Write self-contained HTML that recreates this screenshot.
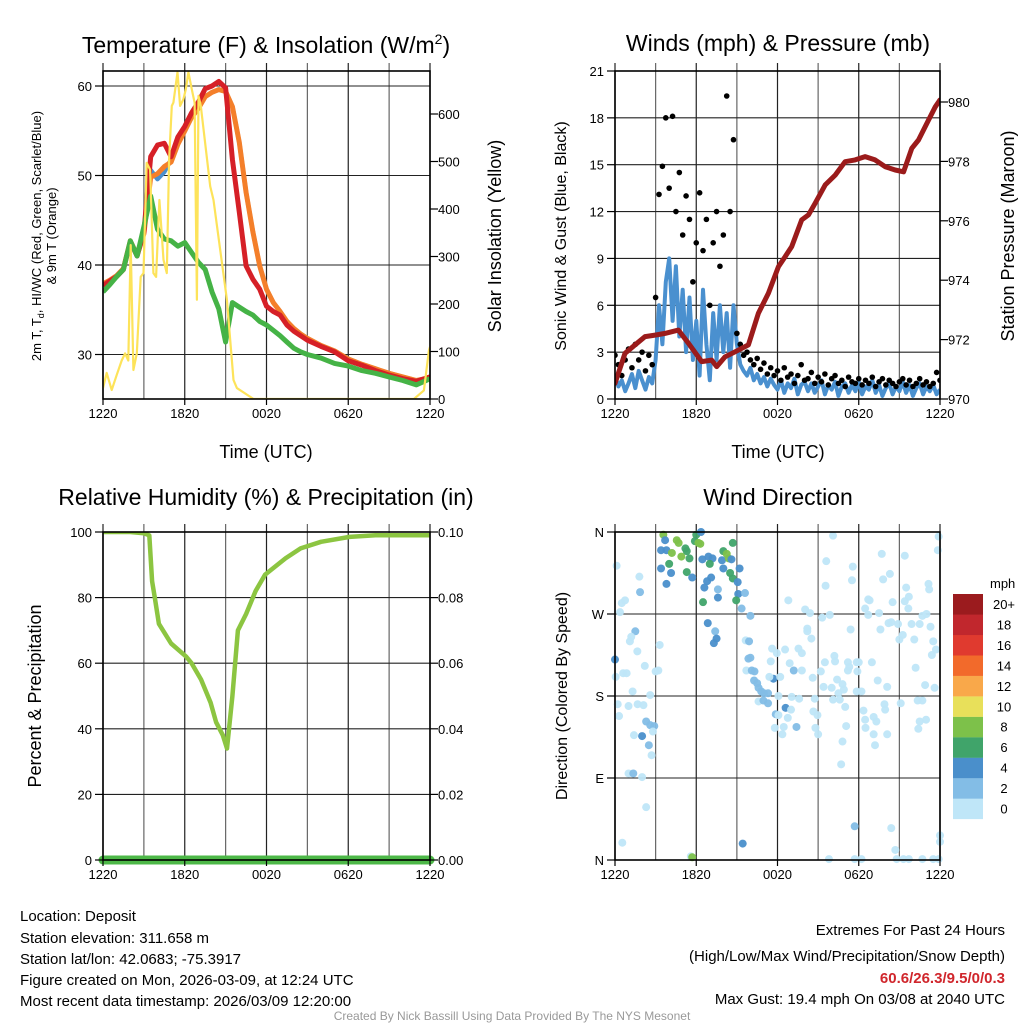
<!DOCTYPE html>
<html><head><meta charset="utf-8"><title>Mesonet Deposit</title>
<style>
html,body{margin:0;padding:0;background:#fff;}
svg{display:block;font-family:"Liberation Sans",Arial,sans-serif;}
.t{font-size:13px;fill:#000;}
.ttl{font-size:23px;fill:#000;}
.ax{font-size:18px;fill:#000;}
.info{font-size:15px;fill:#000;}
</style></head>
<body>
<svg id="chart" width="1024" height="1024" viewBox="0 0 1024 1024">
<rect x="0" y="0" width="1024" height="1024" fill="#fff"/>
<!-- titles -->
<text class="ttl" x="266" y="53" text-anchor="middle">Temperature (F) &amp; Insolation (W/m<tspan font-size="14" dy="-9">2</tspan><tspan dy="9">)</tspan></text>
<text class="ttl" x="778" y="51" text-anchor="middle">Winds (mph) &amp; Pressure (mb)</text>
<text class="ttl" x="266" y="505" text-anchor="middle">Relative Humidity (%) &amp; Precipitation (in)</text>
<text class="ttl" x="778" y="505" text-anchor="middle">Wind Direction</text>
<!-- axis titles -->
<text x="0" y="0" font-size="13" transform="translate(41,236) rotate(-90)" text-anchor="middle">2m T, T<tspan font-size="9" dy="3">d</tspan><tspan dy="-3">, HI/WC (Red, Green, Scarlet/Blue)</tspan></text>
<text x="0" y="0" font-size="13" transform="translate(56,236) rotate(-90)" text-anchor="middle">&amp; 9m T (Orange)</text>
<text class="ax" transform="translate(501,236) rotate(-90)" text-anchor="middle">Solar Insolation (Yellow)</text>
<text class="ax" x="266" y="458" text-anchor="middle">Time (UTC)</text>
<text x="0" y="0" font-size="16" transform="translate(566,236) rotate(-90)" text-anchor="middle">Sonic Wind &amp; Gust (Blue, Black)</text>
<text class="ax" transform="translate(1014,236) rotate(-90)" text-anchor="middle">Station Pressure (Maroon)</text>
<text class="ax" x="778" y="458" text-anchor="middle">Time (UTC)</text>
<text class="ax" transform="translate(41,696) rotate(-90)" text-anchor="middle">Percent &amp; Precipitation</text>
<text x="0" y="0" font-size="16" transform="translate(567,696) rotate(-90)" text-anchor="middle">Direction (Colored By Speed)</text>
<!-- info text -->
<g>
<text class="info" x="20" y="921">Location: Deposit</text>
<text class="info" x="20" y="943">Station elevation: 311.658 m</text>
<text class="info" x="20" y="964">Station lat/lon: 42.0683; -75.3917</text>
<text class="info" x="20" y="985">Figure created on Mon, 2026-03-09, at 12:24 UTC</text>
<text class="info" x="20" y="1006">Most recent data timestamp: 2026/03/09 12:20:00</text>
</g>
<g>
<text class="info" x="1005" y="935" text-anchor="end">Extremes For Past 24 Hours</text>
<text class="info" x="1005" y="961" text-anchor="end">(High/Low/Max Wind/Precipitation/Snow Depth)</text>
<text class="info" x="1005" y="983" text-anchor="end" font-weight="bold" fill="#d0262c" style="fill:#d0262c">60.6/26.3/9.5/0/0.3</text>
<text class="info" x="1005" y="1004" text-anchor="end">Max Gust: 19.4 mph On 03/08 at 2040 UTC</text>
</g>
<text x="512" y="1020" font-size="12" fill="#999" text-anchor="middle">Created By Nick Bassill Using Data Provided By The NYS Mesonet</text>
<defs>
<clipPath id="c1"><rect x="103" y="71" width="327" height="328"/></clipPath>
<clipPath id="c2"><rect x="615" y="71" width="325" height="328"/></clipPath>
<clipPath id="c3"><rect x="90" y="532" width="360" height="340"/></clipPath>
<clipPath id="c4"><rect x="606" y="524" width="342" height="344"/></clipPath>
</defs>
<g id="layer"></g>
</svg>
<script>
// ---------- Panel 1 data: temperature & solar ----------
const tempTimes = [0,0.5,1,1.5,2,2.5,3,3.5,4,4.5,5,5.5,6,6.5,7,7.5,8,8.5,9,9.5,10,10.5,11,11.5,12,12.5,13,13.5,14,14.5,15,16,17,18,19,20,21,22,23,24];
const temp2m = [37.7,38.2,38.7,39.5,42.6,41,43.7,52.1,53.4,53.6,52.1,54.3,55.5,57,58.2,59.7,60,60.5,59.8,51.8,45.9,39.9,38.4,37.3,35.4,34.8,34.4,33.3,32.6,32.1,31.6,30.9,30.3,29.3,28.8,28.2,27.7,27.3,27.0,27.5];
const temp9m = [37.9,38.3,38.8,39.6,42.7,41.1,43.5,49.8,50.2,51,51.5,53.5,55,56.5,57.5,58.8,59.3,59.6,59.4,57.7,53.7,48.1,43.7,39.9,37.3,35.8,34.8,33.7,32.9,32.3,31.8,31.0,30.4,29.5,28.9,28.4,27.9,27.5,27.1,27.4];
const heatIndex = [37.9,38.3,38.8,39.6,42.7,41.1,43.5,50.6,49.6,50.4,51.8,53.6,55,56.5,57.5,58.8,59.3,59.6,59.4,57.7,53.7,48.1,43.7,39.9,37.3,35.8,34.8,33.7,32.9,32.3,31.8,31.0,30.4,29.5,28.9,28.4,27.9,27.5,27.1,27.4];
const dewPoint = [37,37.8,38.7,39.5,42.7,41,44.3,47.7,44,42.9,42.7,42.1,42.5,41.4,40.3,39.5,37,35.1,31.4,35.8,35.3,34.8,34.4,33.7,33.3,32.7,32.1,31.4,30.7,30.3,30,29.6,29,28.7,28.2,27.9,27.5,27.1,26.6,27.3];
const solarTimes = [0,0.27,0.64,1.0,1.37,1.62,1.86,2.03,2.23,2.48,2.77,2.97,3.21,3.46,3.7,3.9,4.14,4.44,4.68,4.85,5.05,5.17,5.47,5.66,5.9,6.08,6.27,6.52,6.72,6.89,7.01,7.18,7.87,8.11,9.09,9.58,9.83,11.05,22.82,23.55,23.92,24];
const solarVals = [23,55,19,50,81,96,81,324,61,96,257,265,497,483,265,257,419,293,265,504,617,624,688,617,631,652,688,652,624,209,638,617,448,419,209,40,23,0,0,18,102,110];
const tempTicks = [30,40,50,60];
const solarTicks = [0,100,200,300,400,500,600];
const timeLabels = ["1220","1820","0020","0620","1220"];
// ---------- Panel 2 data: winds & pressure (15-min) ----------
const windVals = [1.5,0.8,1.2,0.5,1.0,1.6,0.7,1.8,1.2,0.6,1.4,1.0,
2.5,6.0,3.5,7.5,9.0,5.0,8.5,4.0,7.0,3.0,
6.5,2.5,5.0,1.5,7.0,3.5,1.2,5.5,2.5,6.0,3.0,5.5,2.0,6.0,
3.5,2.2,1.8,1.5,2.0,1.2,1.6,1.0,1.4,0.8,1.3,0.9,
0.6,1.2,0.4,1.0,0.7,1.3,0.3,0.9,1.1,0.5,1.0,0.4,
0.8,1.2,0.3,0.9,0.6,1.1,0.2,0.8,1.0,0.4,0.9,0.5,
1.1,0.3,0.8,0.6,1.2,0.4,0.9,0.2,0.7,1.0,0.3,0.8,
0.5,1.1,0.4,0.9,0.2,0.7,1.0,0.3,0.8,0.5,0.9,0.3,0.6];
const gustVals = [2.8,2.2,1.5,2.5,3.2,2.0,3.5,2.5,3.0,1.8,2.8,2.2,
6.5,13.1,14.9,18.0,13.5,18.1,12.0,14.5,10.5,13.0,
11.5,7.5,10.0,13.2,9.5,11.5,6.0,10.0,12.0,8.5,10.5,19.4,12.0,16.6,
4.2,3.5,2.8,3.0,2.5,2.2,2.6,1.9,2.3,1.6,2.0,1.5,
1.8,1.2,2.0,1.4,1.6,1.0,1.5,2.2,1.2,1.3,1.7,1.0,
1.4,1.1,1.6,0.9,1.3,1.5,1.0,1.2,0.8,1.4,1.1,1.0,
1.3,0.9,1.2,1.0,1.4,0.8,1.1,1.3,0.9,1.2,1.0,0.8,
1.1,1.3,0.9,1.2,0.8,1.0,1.3,0.9,1.1,0.8,1.0,1.7,1.2];
const presTimes = [0,0.74,1.48,2.22,2.96,3.69,4.68,5.42,6.4,7.14,7.51,8.13,8.87,9.85,10.59,11.33,12.07,12.56,13.05,13.79,14.29,14.78,15.52,16.26,16.99,17.73,18.47,19.21,19.95,20.69,21.31,21.92,22.41,23.15,23.65,24];
const presVals = [970.53,971.54,971.82,972.10,972.15,972.21,972.32,971.88,971.26,971.31,971.09,971.42,971.59,971.82,972.89,973.56,974.45,974.79,975.13,976.03,976.20,976.59,977.21,977.54,977.99,978.05,978.16,978.05,977.82,977.71,977.65,978.44,978.72,979.39,979.84,980.07];
const windTicks = [0,3,6,9,12,15,18,21];
const presTicks = [970,972,974,976,978,980];
// ---------- Panel 3 data: RH & precip ----------
const rhTimes = [0,1,2,3,3.4,3.6,3.8,4.1,5,6.1,6.5,7.2,7.9,8.3,8.8,9.1,9.5,9.9,10.5,11.2,11.9,13.4,14.5,16,18.1,20,22,24];
const rhVals = [100,100,100,99.6,99,85,80,72,66,62,60,55,48,42,38,34,50,70,75,82,87,92,95,97,98.5,99,99,99];
const precipTimes = [0,24];
const precipVals = [0,0];
const rhTicks = [0,20,40,60,80,100];
const precipTicks = ["0.00","0.02","0.04","0.06","0.08","0.10"];
// ---------- Panel 4 data: wind direction ----------
const wdTimes = [0.12,1.8,1.85,0.5,0.74,0.37,1.5,1.2,1.1,1.65,0,2.2,0.05,0.6,0.86,1.3,0.2,1,1.67,2.1,0.3,2.6,2.3,2.6,2.9,2.8,1.4,2.0,2.5,2.7,1,1.35,2,2.3,0.54,3.0,3.3,3.2,
3.57,3.7,3.4,3.8,4.2,4.56,4.7,4.9,5.2,5.3,5.5,3.4,4.0,4.14,3.8,5.3,5.7,6.0,6.35,5.9,6.16,6.3,6.45,6.9,7.2,7.0,7.1,6.8,6.6,7.6,7.6,6.5,8.0,7.9,8.25,8.4,8.6,8.0,8.5,8.7,8.7,9.06,9.2,9.1,8.95,9.6,9.35,10.0,6.85,7.4,7.5,7.3,
9.65,9.9,9.85,10.0,9.7,10.1,10.3,10.27,10.5,10.6,10.8,11.0,11.3,10.6,10.96,11.3,11.7,11.4,11.6,11.95,11.5,12.2,12.07,12.6,11.87,12.07,13,12.76,11.8,12.46,12.36,13.4,12.56,12.9,13.05,13.6,13.55,13.8,13.2,13.8,12.8,14.04,14.4,14.2,14.2,14.5,14.6,14.75,14.65,14.95,14.8,15,15.2,15.4,15.5,15.6,15.55,15.3,15.86,16.1,16.1,16.0,16.2,16.25,16.4,16.5,16.6,16.8,16.9,17.0,17.07,16.8,16.7,17.2,17.3,17.2,17.4,17.56,17.5,17.85,17.9,17.85,18.2,18.0,18.35,18.47,18.5,18.97,19.1,19.3,19.1,19.2,18.7,18.8,18.47,18.7,19.5,19.6,19.8,19.7,20.3,20.5,20.2,20.4,20.9,21.0,21.25,19.4,20.1,19.9,19.95,20.1,21.1,21.4,21.4,21.5,21.7,21.66,21.9,22.1,22.2,22.5,22.7,23.0,23.3,23.5,23.7,23.4,23.6,22.9,22.35,22.7,22.5,22.97,22.4,23.15,23.2,23.9,23.84,
5.6,5.7,9.43,17.7,20.4,20.7,15.8,17.7,18.2,20.8,21.3,21.7,22.7,23.5,23.9,24,24];
const wdDirs = [323,311,294,282,285,272,251,245,240,229,220,213,201,205,205,185,171,169,171,170,158,181,152,148,147,141,137,136,126,115,95,95,91,58,19,207,236,208,
357,351,340,340,337,351,348,333,342,339,331,320,325,315,303,316,310,357,360,350,348,347,330,333,331,325,310,306,299,297,288,283,339,329,336,331,330,320,315,309,348,305,320,292,285,293,276,268,260,251,243,238,
241,240,221,222,208,208,207,197,194,189,185,183,183,174,175,172,199,201,232,227,218,201,180,167,160,159,165,156,145,146,138,146,231,216,179,177,232,227,208,208,285,275,271,254,251,243,200,177,163,159,145,138,207,190,217,328,301,266,269,356,176,189,224,218,198,183,176,193,187,168,147,130,105,217,212,208,253,322,307,217,207,185,185,217,164,154,145,217,157,152,138,126,286,285,276,269,271,253,308,336,314,283,260,261,259,242,247,197,190,171,165,138,172,334,284,299,289,276,259,242,211,259,268,270,256,240,231,225,189,192,175,175,152,154,144,303,297,355,340,
4,3,18,37,35,11,1,1,1,1,1,1,1,1,1,27,20];
const wdSpeeds = [1,1,3,1,1,1,3,1,1,1,5,1,1,1,1,1,1,1,1,1,1,1,3,3,3,1,1,5,3,1,1,3,1,1,1,1,1,1,
9,5,5,5,9,9,9,9,7,7,7,5,7,5,5,7,5,7,5,7,9,9,5,5,5,7,5,5,5,3,5,7,7,5,9,9,5,5,7,7,7,5,5,5,7,3,3,3,5,3,5,5,
1,3,3,3,1,3,3,3,3,3,3,3,3,1,3,3,5,1,1,1,1,1,1,5,3,1,1,1,1,1,1,3,1,1,1,1,1,1,3,1,1,1,1,1,1,1,1,1,1,1,1,1,1,1,1,1,1,1,1,1,1,1,1,1,1,1,1,1,1,1,1,1,1,1,1,1,1,1,1,1,1,1,1,1,1,1,1,1,1,1,1,1,1,1,1,1,1,1,1,1,1,1,1,1,1,1,1,1,1,1,1,1,1,1,1,1,1,1,1,1,1,1,1,1,1,1,1,1,1,1,1,1,1,1,1,1,1,1,1,1,
9,5,3,1,1,1,1,1,1,1,1,1,1,1,1,1,1];
const speedBins = ["0","2","4","6","8","10","12","14","16","18","20+"];
const speedColors = ["#bfe6f8","#83bde6","#4a8fcb","#40a46a","#7dc14a","#e8e05a","#f9a84a","#f26a2b","#e03a2f","#c1272d","#9b1b1e"];
const dirTicks = [0,90,180,270,360];
const dirLabels = ["N","E","S","W","N"];

// ---------- scales ----------
const P1 = {x0:103, x1:430, y0:71, y1:399};
const P2 = {x0:615, x1:940, y0:71, y1:399};
const P3 = {x0:103, x1:430, y0:532, y1:860};
const P4 = {x0:615, x1:940, y0:532, y1:860};
const xt = (P, t) => P.x0 + t * (P.x1 - P.x0) / 24;
const yTemp = v => 86 + (60 - v) * 8.95;
const ySolar = v => 399 - v * 0.475;
const yWind = v => 399 - v * (328 / 21);
const yPres = p => 399 - (p - 970) * 29.7;
const yRH = v => 860 - v * 3.28;
const yPrecip = v => 860 - v * 3280;
const yDir = d => 860 - d * (328 / 360);
const speedIndex = s => Math.min(10, Math.floor(s / 2));

const NS = "http://www.w3.org/2000/svg";
const layer = document.getElementById("layer");
function mk(tag, attrs, parent) {
  const e = document.createElementNS(NS, tag);
  for (const k in attrs) e.setAttribute(k, attrs[k]);
  (parent || layer).appendChild(e);
  return e;
}
function grp(clip) {
  const g = mk("g", clip ? {"clip-path": "url(#" + clip + ")"} : {});
  return g;
}
function pathFrom(ts, vs, fx, fy) {
  return ts.map((t, i) => (i ? "L" : "M") + fx(t).toFixed(1) + "," + fy(vs[i]).toFixed(1)).join("");
}

// ---------- frames, grids, ticks ----------
function panelGrid(P, hVals, yf, name) {
  const g = grp();
  
  
  for (let h = 0; h <= 24; h += 3) {
    const x = xt(P, h);
    const l = mk("line", {x1:x, x2:x, y1:P.y0 - 8, y2:P.y1, stroke: (h % 6 === 0) ? "#222" : "#666", "stroke-width":1.2}, g);
    
    
  }
  hVals.forEach(v => {
    const y = yf(v);
    const l = mk("line", {x1:P.x0, x2:P.x1, y1:y, y2:y, stroke:"#222", "stroke-width":1.1}, g);
    
    
  });
}
function frame(P, name) {
  const r = mk("rect", {x:P.x0, y:P.y0, width:P.x1 - P.x0, height:P.y1 - P.y0, fill:"none", stroke:"#000", "stroke-width":1.6});
  
  
  timeLabels.forEach((lab, i) => {
    const x = xt(P, i * 6);
    const tk = mk("line", {x1:x, x2:x, y1:P.y1, y2:P.y1 + 6, stroke:"#000", "stroke-width":1.2});
    
    
    const t = mk("text", {x:x, y:P.y1 + 19, "text-anchor":"middle", "class":"t"});
    t.textContent = lab;
    
    
  });
}
function yAxis(P, vals, labels, yf, side, name) {
  vals.forEach((v, i) => {
    const y = yf(v);
    const x = side === "left" ? P.x0 : P.x1;
    const dx = side === "left" ? -8 : 8;
    const tk = mk("line", {x1:x, x2:x + dx, y1:y, y2:y, stroke:"#000", "stroke-width":1.2});
    
    
    const t = mk("text", {x: side === "left" ? x - 11 : x + 8, y: y + 5, "text-anchor": side === "left" ? "end" : "start", "class":"t"});
    t.textContent = labels[i];
    
    
  });
}

panelGrid(P1, tempTicks, yTemp, "temperature");
panelGrid(P2, windTicks, yWind, "winds");
panelGrid(P3, rhTicks, yRH, "humidity");
panelGrid(P4, dirTicks, yDir, "direction");

// ---------- Panel 1 series ----------
const g1 = grp("c1");
const s1 = mk("path", {d: pathFrom(tempTimes, heatIndex, t => xt(P1, t), yTemp), fill:"none", stroke:"#4a90cf", "stroke-width":4.5, "stroke-linejoin":"round"}, g1);


const s2 = mk("path", {d: pathFrom(tempTimes, temp9m, t => xt(P1, t), yTemp), fill:"none", stroke:"#f47f2a", "stroke-width":5, "stroke-linejoin":"round"}, g1);


const s3 = mk("path", {d: pathFrom(tempTimes, temp2m, t => xt(P1, t), yTemp), fill:"none", stroke:"#d62027", "stroke-width":5, "stroke-linejoin":"round"}, g1);


const s4 = mk("path", {d: pathFrom(tempTimes, dewPoint, t => xt(P1, t), yTemp), fill:"none", stroke:"#45b346", "stroke-width":5, "stroke-linejoin":"round"}, g1);


const s5 = mk("path", {d: pathFrom(solarTimes, solarVals, t => xt(P1, t), ySolar), fill:"none", stroke:"#fde35a", "stroke-width":2.2, "stroke-linejoin":"round"}, g1);


frame(P1, "temperature");
yAxis(P1, tempTicks, tempTicks.map(String), yTemp, "left", "temperature-y");
yAxis(P1, solarTicks, solarTicks.map(String), ySolar, "right", "solar-y");

// ---------- Panel 2 series ----------
const g2 = grp("c2");
const windTimes = windVals.map((v, i) => i * 0.25);
const w1 = mk("path", {d: pathFrom(windTimes, windVals, t => xt(P2, t), yWind), fill:"none", stroke:"#4a90cf", "stroke-width":4, "stroke-linejoin":"round"}, g2);


gustVals.forEach((v, i) => {
  const c = mk("circle", {cx: xt(P2, i * 0.25), cy: yWind(v), r: 2.8, fill:"#000"}, g2);
  
  
});
const pr = mk("path", {d: pathFrom(presTimes, presVals, t => xt(P2, t), yPres), fill:"none", stroke:"#9b1b1b", "stroke-width":5, "stroke-linejoin":"round", "stroke-linecap":"round"}, g2);


frame(P2, "winds");
yAxis(P2, windTicks, windTicks.map(String), yWind, "left", "wind-y");
yAxis(P2, presTicks, presTicks.map(String), yPres, "right", "pressure-y");

// ---------- Panel 3 series ----------
const g3 = grp("c3");
const rh = mk("path", {d: pathFrom(rhTimes, rhVals, t => xt(P3, t), yRH), fill:"none", stroke:"#8cc541", "stroke-width":4.5, "stroke-linejoin":"round"}, g3);


const pc = mk("path", {d: pathFrom(precipTimes, precipVals, t => xt(P3, t), yPrecip), fill:"none", stroke:"#4db848", "stroke-width":9, "stroke-linecap":"round"}, g3);


frame(P3, "humidity");
yAxis(P3, rhTicks, rhTicks.map(String), yRH, "left", "humidity-y");
yAxis(P3, precipTicks.map(Number), precipTicks, yPrecip, "right", "precip-y");

// ---------- Panel 4 series ----------
const g4 = grp("c4");
wdTimes.forEach((t, i) => {
  const c = mk("circle", {cx: xt(P4, t), cy: yDir(wdDirs[i]), r: 4, fill: speedColors[speedIndex(wdSpeeds[i])], "fill-opacity":0.95}, g4);
  
  
});
frame(P4, "direction");
yAxis(P4, dirTicks, dirLabels, yDir, "left", "direction-y");

// ---------- colour bar ----------
const cb = grp();


const cbTitle = mk("text", {x:990, y:588, "class":"t", "text-anchor":"start", "font-size":14}, cb);
cbTitle.textContent = "mph";


speedBins.forEach((lab, i) => {
  const y = 594 + (10 - i) * 20.45;
  const r = mk("rect", {x:953, y:y, width:30, height:20.6, fill: speedColors[i]}, cb);
  
  
  const t = mk("text", {x:1004, y:y + 15, "class":"t", "text-anchor":"middle", "font-size":14}, cb);
  t.textContent = lab;
  
  
});
</script>
</body></html>
